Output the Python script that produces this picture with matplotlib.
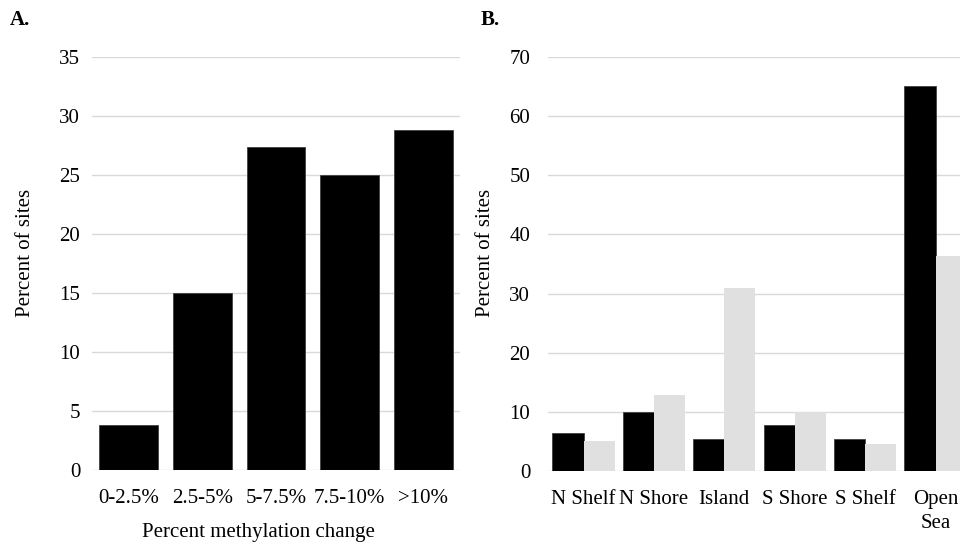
import matplotlib
matplotlib.use("Agg")
import matplotlib.pyplot as plt
import numpy as np

plt.rcParams['font.family'] = ['Liberation Serif', 'DejaVu Serif']

# Panel A: distribution of methylation change
change_bins = ["0-2.5%", "2.5-5%", "5-7.5%", "7.5-10%", ">10%"]
change_pct = [3.8, 15.0, 27.4, 25.0, 28.8]

# Panel B: genomic context of sites (two groups)
regions = ["N Shelf", "N Shore", "Island", "S Shore", "S Shelf", "Open\nSea"]
group1_pct = [6.4, 9.9, 5.4, 7.8, 5.4, 65.1]
group2_pct = [5.1, 12.9, 30.9, 10.0, 4.6, 36.4]

W, H = 960, 543
fig = plt.figure(figsize=(W / 100, H / 100), dpi=100)
FS = 15
GRID = "#d9d9d9"
LIGHT = "#e0e0e0"


def px_axes(x0, x1, y_top, y_bot):
    return fig.add_axes([x0 / W, (H - y_bot) / H, (x1 - x0) / W, (y_bot - y_top) / H])


def style(ax, ymax, step, ypad, xpad):
    ax.set_ylim(0, ymax)
    ax.set_yticks(np.arange(0, ymax + 0.01, step))
    ax.yaxis.grid(True, color=GRID, linewidth=1.0)
    ax.set_axisbelow(True)
    for s in ax.spines.values():
        s.set_visible(False)
    ax.tick_params(axis='y', length=0, pad=ypad, labelsize=FS)
    ax.tick_params(axis='x', length=0, pad=xpad, labelsize=FS)


# ---- Panel A ----
axA = px_axes(92, 460, 57, 470)
xa = np.arange(len(change_bins))
axA.bar(xa, change_pct, width=0.8, color="black", edgecolor="#404040", linewidth=0.6)
axA.set_xlim(-0.5, len(change_bins) - 0.5)
axA.set_xticks(xa)
axA.set_xticklabels(change_bins)
style(axA, 35, 5, 8.5, 14)

fig.text(10 / W, 1 - 20 / H, "A.", fontsize=FS, fontweight="bold", va="center", ha="left")
fig.text(26 / W, 1 - 253 / H, "Percent of sites", fontsize=FS, rotation=90, va="center", ha="center")
fig.text(258 / W, 1 - 532 / H, "Percent methylation change", fontsize=FS, va="center", ha="center")

# ---- Panel B ----
axB = px_axes(548.3, 970.7, 57, 471)
xb = np.arange(len(regions))
bw = 0.4425
axB.bar(xb - bw / 2, group1_pct, width=bw, color="black", edgecolor="#404040", linewidth=0.6)
axB.bar(xb + bw / 2, group2_pct, width=bw, color=LIGHT, edgecolor="none")
axB.set_xlim(-0.5, len(regions) - 0.5)
axB.set_xticks(xb)
axB.set_xticklabels(regions, linespacing=1.3)
style(axB, 70, 10, 13, 14)

fig.text(481 / W, 1 - 20 / H, "B.", fontsize=FS, fontweight="bold", va="center", ha="left")
fig.text(485 / W, 1 - 253 / H, "Percent of sites", fontsize=FS, rotation=90, va="center", ha="center")

fig.savefig("out.png", dpi=100)
